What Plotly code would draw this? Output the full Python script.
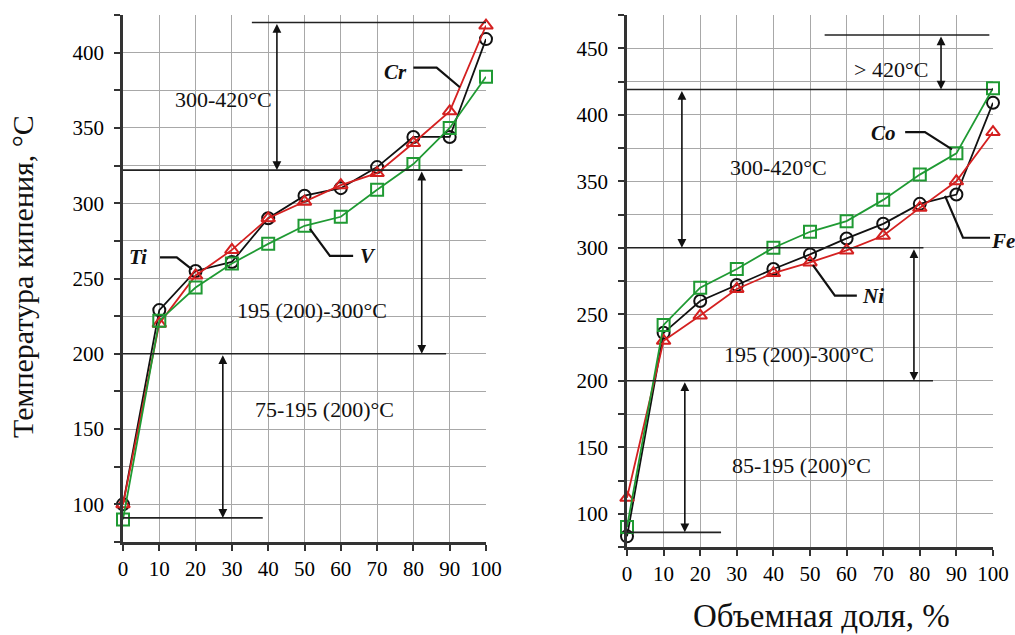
import plotly.graph_objects as go

# ---------------- data ----------------
x_vals = [0, 10, 20, 30, 40, 50, 60, 70, 80, 90, 100]
X_RANGE = [0, 100]

# left panel
ti_vals = [100, 229, 255, 261, 290, 305, 310, 324, 344, 344, 409]   # black circles
cr_vals = [100, 220, 252, 269, 290, 301, 312, 320, 340, 361, 418]   # red triangles
v_vals = [90, 222, 244, 260, 273, 285, 291, 309, 326, 350, 384]     # green squares

# right panel
fe_vals = [83, 236, 260, 272, 284, 295, 307, 318, 333, 340, 409]    # black circles
ni_vals = [112, 230, 249, 269, 281, 289, 298, 309, 330, 350, 387]   # red triangles
co_vals = [90, 242, 270, 284, 300, 312, 320, 336, 355, 371, 420]    # green squares

x_ticks = [0, 10, 20, 30, 40, 50, 60, 70, 80, 90, 100]
y_ticks_left = [100, 150, 200, 250, 300, 350, 400]
y_ticks_right = [100, 150, 200, 250, 300, 350, 400, 450]
y_minor_left = [75, 100, 125, 150, 175, 200, 225, 250, 275, 300, 325, 350, 375, 400, 425]
y_minor_right = [75, 100, 125, 150, 175, 200, 225, 250, 275, 300, 325, 350, 375, 400, 425, 450, 475]

# boundary lines: (y, x0, x1)
left_lines = [(420, 35.5, 100), (322, 0, 93.5), (200, 0, 89), (91, 0, 38.5)]
right_lines = [(460, 54, 99), (419, 0, 100), (300, 0, 81), (200, 0, 83.6), (86, 0, 25.7)]

# arrows: (x, y_from, y_to)
left_arrows = [(42.4, 420, 322), (82.3, 322, 200), (27.5, 200, 91)]
right_arrows = [(85.8, 460, 419), (15, 419, 300), (78.4, 300, 200), (15.8, 200, 86)]

# range labels: (text, x, y)
left_texts = [("300-420°C", 27.7, 369), ("195 (200)-300°C", 52, 229), ("75-195 (200)°C", 55.6, 163)]
right_texts = [("> 420°C", 72, 434), ("300-420°C", 41.3, 360), ("195 (200)-300°C", 47, 220), ("85-195 (200)°C", 47.8, 136)]

# element labels with leader lines: (text, text_x, text_y, leader_x, leader_y)
left_labels = [
    ("Ti", 4.2, 264, [10.2, 14.8, 19.0], [264, 264, 256]),
    ("V", 67.5, 265, [63.4, 57.0, 51.5], [265, 265, 283]),
    ("Cr", 75.2, 387, [80.0, 86.4, 92.8], [390, 390, 377]),
]
right_labels = [
    ("Ni", 67.2, 264, [62.8, 56.8, 50.8], [264, 264, 287]),
    ("Co", 70.2, 386, [76.0, 81.4, 88.8], [387, 387, 374]),
    ("Fe", 102.6, 305, [99.2, 91.8, 86.9], [307.5, 307.5, 339]),
]

# ---------------- style ----------------
BLACK = "#111111"
RED = "#d42020"
GREEN = "#1f9a33"
FONT = "Liberation Serif"

fig = go.Figure()


def add_series(xa, ya, vals, color, symbol):
    fig.add_trace(go.Scatter(
        x=x_vals, y=vals, xaxis=xa, yaxis=ya, mode="lines+markers",
        line=dict(color=color, width=1.8),
        marker=dict(symbol=symbol, size=12, color=color,
                    line=dict(color=color, width=2)),
        showlegend=False, cliponaxis=False, hoverinfo="skip"))


def add_panel(xa, ya, lines, arrows, texts, labels):
    for (yv, x0, x1) in lines:
        fig.add_shape(type="line", xref=xa, yref=ya, x0=x0, x1=x1, y0=yv, y1=yv,
                      line=dict(color="#222222", width=1.6), layer="above")
    for (xv, y0, y1) in arrows:
        fig.add_annotation(x=xv, y=y1, ax=xv, ay=y0, xref=xa, yref=ya,
                           axref=xa, ayref=ya, text="", showarrow=True,
                           arrowhead=2, startarrowhead=2, arrowside="end+start",
                           arrowsize=1.1, arrowwidth=1.6, arrowcolor="#111111",
                           standoff=0, startstandoff=0)
    for (t, xv, yv) in texts:
        fig.add_annotation(x=xv, y=yv, xref=xa, yref=ya, text=t, showarrow=False,
                           xanchor="center", yanchor="middle",
                           font=dict(family=FONT, size=22, color="#111111"))
    for (t, tx, ty, lx, ly) in labels:
        fig.add_trace(go.Scatter(x=lx, y=ly, xaxis=xa, yaxis=ya, mode="lines",
                                 line=dict(color="#111111", width=2.2),
                                 showlegend=False, cliponaxis=False, hoverinfo="skip"))
        # x given as a fraction of the axis domain so labels beyond the range stay visible
        fig.add_annotation(x=(tx - X_RANGE[0]) / (X_RANGE[1] - X_RANGE[0]), y=ty,
                           xref=xa + " domain", yref=ya,
                           text="<b><i>%s</i></b>" % t, showarrow=False,
                           xanchor="center", yanchor="middle",
                           font=dict(family=FONT, size=21, color="#111111"))


# left panel series (black, red, green)
add_series("x", "y", ti_vals, BLACK, "circle-open")
add_series("x", "y", cr_vals, RED, "triangle-up-open")
add_series("x", "y", v_vals, GREEN, "square-open")
add_panel("x", "y", left_lines, left_arrows, left_texts, left_labels)

# right panel series
add_series("x2", "y2", fe_vals, BLACK, "circle-open")
add_series("x2", "y2", ni_vals, RED, "triangle-up-open")
add_series("x2", "y2", co_vals, GREEN, "square-open")
add_panel("x2", "y2", right_lines, right_arrows, right_texts, right_labels)

axis_common = dict(
    showgrid=True, gridcolor="#a8a8a8", gridwidth=1,
    showline=True, linecolor="#333333", linewidth=2.5,
    ticks="outside", tickcolor="#333333", tickwidth=2, ticklen=6,
    tickfont=dict(family=FONT, size=21, color="#000000"),
    ticklabeloverflow="allow",
    zeroline=False, automargin=False,
)

xaxis_common = dict(axis_common, range=X_RANGE, tickvals=x_ticks)

fig.update_layout(
    width=1015, height=635,
    margin=dict(l=0, r=0, t=0, b=0),
    paper_bgcolor="white", plot_bgcolor="white",
    xaxis=dict(xaxis_common, domain=[123 / 1015, 486 / 1015], anchor="y"),
    yaxis=dict(axis_common, domain=[(635 - 542) / 635, (635 - 15) / 635], anchor="x",
               range=[75, 425], tickvals=y_minor_left, ticklabelstandoff=6,
               ticktext=[str(v) if v in y_ticks_left else "" for v in y_minor_left]),
    xaxis2=dict(xaxis_common, domain=[627 / 1015, 993 / 1015], anchor="y2"),
    yaxis2=dict(axis_common, domain=[(635 - 547) / 635, (635 - 15) / 635], anchor="x2",
                range=[75, 475], tickvals=y_minor_right, ticklabelstandoff=6,
                ticktext=[str(v) if v in y_ticks_right else "" for v in y_minor_right]),
)

# axis titles
fig.add_annotation(x=22 / 1015, y=1 - 277 / 635, xref="paper", yref="paper",
                   xanchor="center", yanchor="middle",
                   text="Температура кипения, °C", textangle=-90, showarrow=False,
                   font=dict(family=FONT, size=30, color="#111111"))
fig.add_annotation(x=821 / 1015, y=1 - 616 / 635, xref="paper", yref="paper",
                   xanchor="center", yanchor="middle",
                   text="Объемная доля, %", showarrow=False,
                   font=dict(family=FONT, size=33, color="#111111"))

fig.write_html("out.html", config={"displayModeBar": False},
               post_script="document.body.style.margin='0';")
